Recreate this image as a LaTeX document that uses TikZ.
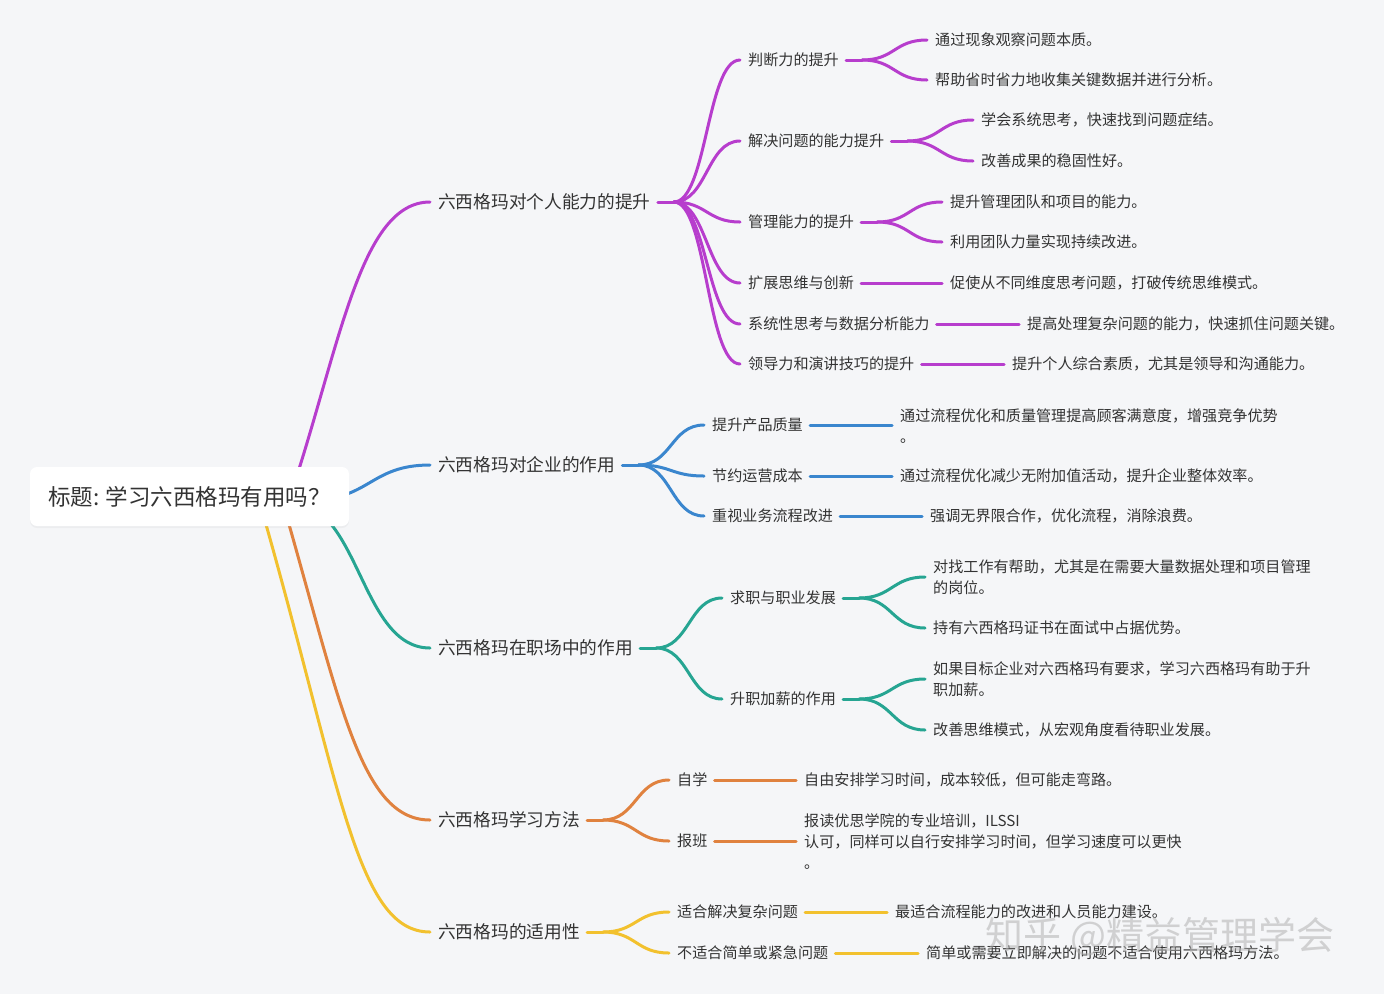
\documentclass[tikz,border=0pt]{standalone}
\usepackage{fontspec}
\setmainfont{Noto Sans CJK SC}
\usetikzlibrary{calc,shadows}
\definecolor{bgc}{HTML}{F5F6F8}
\definecolor{txt}{HTML}{333333}
\definecolor{cpur}{HTML}{B73DCD}
\definecolor{cblu}{HTML}{3A86CE}
\definecolor{ctea}{HTML}{26A592}
\definecolor{cora}{HTML}{E0823F}
\definecolor{cyel}{HTML}{F2C12E}
\begin{document}
\begin{tikzpicture}[x=1pt,y=-1pt,
  lone/.style={anchor=west,inner sep=0pt,text=txt,font=\fontsize{17.7}{22}\selectfont},
  ltwo/.style={anchor=west,inner sep=0pt,text=txt,font=\fontsize{15.1}{21}\selectfont},
  leaf/.style={anchor=west,inner sep=0pt,text=txt,align=left,font=\fontsize{15.1}{21}\selectfont},
  lk/.style={line width=3pt,line cap=round},
  rootbox/.style={fill=white,rounded corners=7pt,minimum width=319pt,minimum height=59pt,
     inner sep=0pt,text=txt,font=\fontsize{22.5}{27}\selectfont,
     drop shadow={opacity=0.07,shadow xshift=0pt,shadow yshift=-2pt}}]
\fill[bgc] (0,0) rectangle (1384,994);
\useasboundingbox (0,0) rectangle (1384,994);

% ---------- level 1 ----------
\node[lone] (A) at (438,202) {六西格玛对个人能力的提升};
\node[lone] (B) at (438,465) {六西格玛对企业的作用};
\node[lone] (C) at (438,648) {六西格玛在职场中的作用};
\node[lone] (D) at (438,820) {六西格玛学习方法};
\node[lone] (E) at (438,932) {六西格玛的适用性};

% ---------- purple ----------
\node[ltwo] (A1) at (748,60) {判断力的提升};
\node[ltwo] (A2) at (748,141) {解决问题的能力提升};
\node[ltwo] (A3) at (748,222) {管理能力的提升};
\node[ltwo] (A4) at (748,283) {扩展思维与创新};
\node[ltwo] (A5) at (748,324) {系统性思考与数据分析能力};
\node[ltwo] (A6) at (748,364) {领导力和演讲技巧的提升};
\node[leaf] (A11) at (935,40) {通过现象观察问题本质。};
\node[leaf] (A12) at (935,80) {帮助省时省力地收集关键数据并进行分析。};
\node[leaf] (A21) at (981,120) {学会系统思考，快速找到问题症结。};
\node[leaf] (A22) at (981,161) {改善成果的稳固性好。};
\node[leaf] (A31) at (950,202) {提升管理团队和项目的能力。};
\node[leaf] (A32) at (950,242) {利用团队力量实现持续改进。};
\node[leaf] (A41) at (950,283) {促使从不同维度思考问题，打破传统思维模式。};
\node[leaf] (A51) at (1027,324) {提高处理复杂问题的能力，快速抓住问题关键。};
\node[leaf] (A61) at (1012,364) {提升个人综合素质，尤其是领导和沟通能力。};

% ---------- blue ----------
\node[ltwo] (B1) at (712,425) {提升产品质量};
\node[ltwo] (B2) at (712,476) {节约运营成本};
\node[ltwo] (B3) at (712,516) {重视业务流程改进};
\node[leaf] (B11) at (900,426) {通过流程优化和质量管理提高顾客满意度，增强竞争优势\\。};
\node[leaf] (B21) at (900,476) {通过流程优化减少无附加值活动，提升企业整体效率。};
\node[leaf] (B31) at (930,516) {强调无界限合作，优化流程，消除浪费。};

% ---------- teal ----------
\node[ltwo] (C1) at (730,598) {求职与职业发展};
\node[ltwo] (C2) at (730,699) {升职加薪的作用};
\node[leaf] (C11) at (933,577) {对找工作有帮助，尤其是在需要大量数据处理和项目管理\\的岗位。};
\node[leaf] (C12) at (933,628) {持有六西格玛证书在面试中占据优势。};
\node[leaf] (C21) at (933,679) {如果目标企业对六西格玛有要求，学习六西格玛有助于升\\职加薪。};
\node[leaf] (C22) at (933,730) {改善思维模式，从宏观角度看待职业发展。};

% ---------- orange ----------
\node[ltwo] (D1) at (677,780) {自学};
\node[ltwo] (D2) at (677,841) {报班};
\node[leaf] (D11) at (804,780) {自由安排学习时间，成本较低，但可能走弯路。};
\node[leaf] (D21) at (804,842) {报读优思学院的专业培训，ILSSI\\认可，同样可以自行安排学习时间，但学习速度可以更快\\。};

% ---------- yellow ----------
\node[ltwo] (E1) at (677,912) {适合解决复杂问题};
\node[ltwo] (E2) at (677,953) {不适合简单或紧急问题};
\node[leaf] (E11) at (895,912) {最适合流程能力的改进和人员能力建设。};
\node[leaf] (E21) at (926,953) {简单或需要立即解决的问题不适合使用六西格玛方法。};

% ---------- root links ----------
\coordinate (rA) at (290,497);
\coordinate (rB) at (310,500);
\coordinate (rC) at (290,502);
\coordinate (rD) at (282,500);
\coordinate (rE) at (259,500);
\draw[lk,cpur] (rA) .. controls +(50,-150) and +(-70,0) .. ($(A.west)+(-8,0)$);
\draw[lk,cblu] (rB) .. controls +(60,0) and +(-60,0) .. ($(B.west)+(-8,0)$);
\draw[lk,ctea] (rC) .. controls +(70,0) and +(-70,0) .. ($(C.west)+(-8,0)$);
\draw[lk,cora] (rD) .. controls +(58,200) and +(-70,0) .. ($(D.west)+(-8,0)$);
\draw[lk,cyel] (rE) .. controls +(81,280) and +(-75,0) .. ($(E.west)+(-8,0)$);

% ---------- fans ----------
% purple level1 -> level2
\draw[lk,cpur] ($(A.east)+(7,0)$) -- ++(16,0) coordinate (Aj);
\foreach \k in {A1,A2,A3,A4,A5,A6}
  \draw[lk,cpur] (Aj) .. controls +(33,0) and +(-33,0) .. ($(\k.west)+(-8,0)$);
% purple level2 -> leaves
\draw[lk,cpur] ($(A1.east)+(7,0)$) -- ++(16,0) coordinate (A1j);
\draw[lk,cpur] (A1j) .. controls +(33,0) and +(-33,0) .. ($(A11.west)+(-8,0)$);
\draw[lk,cpur] (A1j) .. controls +(33,0) and +(-33,0) .. ($(A12.west)+(-8,0)$);
\draw[lk,cpur] ($(A2.east)+(7,0)$) -- ++(16,0) coordinate (A2j);
\draw[lk,cpur] (A2j) .. controls +(33,0) and +(-33,0) .. ($(A21.west)+(-8,0)$);
\draw[lk,cpur] (A2j) .. controls +(33,0) and +(-33,0) .. ($(A22.west)+(-8,0)$);
\draw[lk,cpur] ($(A3.east)+(7,0)$) -- ++(16,0) coordinate (A3j);
\draw[lk,cpur] (A3j) .. controls +(33,0) and +(-33,0) .. ($(A31.west)+(-8,0)$);
\draw[lk,cpur] (A3j) .. controls +(33,0) and +(-33,0) .. ($(A32.west)+(-8,0)$);
\draw[lk,cpur] ($(A4.east)+(7,0)$) -- ($(A41.west)+(-8,0)$);
\draw[lk,cpur] ($(A5.east)+(7,0)$) -- ($(A51.west)+(-8,0)$);
\draw[lk,cpur] ($(A6.east)+(7,0)$) -- ($(A61.west)+(-8,0)$);

% blue
\draw[lk,cblu] ($(B.east)+(7,0)$) -- ++(16,0) coordinate (Bj);
\foreach \k in {B1,B2,B3}
  \draw[lk,cblu] (Bj) .. controls +(33,0) and +(-33,0) .. ($(\k.west)+(-8,0)$);
\draw[lk,cblu] ($(B1.east)+(7,0)$) -- ($(B1.east -| B11.west)+(-8,0)$);
\draw[lk,cblu] ($(B2.east)+(7,0)$) -- ($(B21.west)+(-8,0)$);
\draw[lk,cblu] ($(B3.east)+(7,0)$) -- ($(B31.west)+(-8,0)$);

% teal
\draw[lk,ctea] ($(C.east)+(7,0)$) -- ++(16,0) coordinate (Cj);
\foreach \k in {C1,C2}
  \draw[lk,ctea] (Cj) .. controls +(33,0) and +(-33,0) .. ($(\k.west)+(-8,0)$);
\draw[lk,ctea] ($(C1.east)+(7,0)$) -- ++(16,0) coordinate (C1j);
\draw[lk,ctea] (C1j) .. controls +(33,0) and +(-33,0) .. ($(C11.west)+(-8,0)$);
\draw[lk,ctea] (C1j) .. controls +(33,0) and +(-33,0) .. ($(C12.west)+(-8,0)$);
\draw[lk,ctea] ($(C2.east)+(7,0)$) -- ++(16,0) coordinate (C2j);
\draw[lk,ctea] (C2j) .. controls +(33,0) and +(-33,0) .. ($(C21.west)+(-8,0)$);
\draw[lk,ctea] (C2j) .. controls +(33,0) and +(-33,0) .. ($(C22.west)+(-8,0)$);

% orange
\draw[lk,cora] ($(D.east)+(7,0)$) -- ++(16,0) coordinate (Dj);
\foreach \k in {D1,D2}
  \draw[lk,cora] (Dj) .. controls +(33,0) and +(-33,0) .. ($(\k.west)+(-8,0)$);
\draw[lk,cora] ($(D1.east)+(7,0)$) -- ($(D11.west)+(-8,0)$);
\draw[lk,cora] ($(D2.east)+(7,0)$) -- ($(D2.east -| D21.west)+(-8,0)$);

% yellow
\draw[lk,cyel] ($(E.east)+(7,0)$) -- ++(16,0) coordinate (Ej);
\foreach \k in {E1,E2}
  \draw[lk,cyel] (Ej) .. controls +(33,0) and +(-33,0) .. ($(\k.west)+(-8,0)$);
\draw[lk,cyel] ($(E1.east)+(7,0)$) -- ($(E11.west)+(-8,0)$);
\draw[lk,cyel] ($(E2.east)+(7,0)$) -- ($(E21.west)+(-8,0)$);

% ---------- root ----------
\node[rootbox] (root) at (189.5,496.5) {标题: 学习六西格玛有用吗？};

% ---------- watermark ----------
\node[inner sep=0pt,text=black!30,opacity=0.55,font=\fontsize{38}{40}\selectfont] (wm) at (1160,937) {知乎 @精益管理学会};
\end{tikzpicture}
\end{document}
